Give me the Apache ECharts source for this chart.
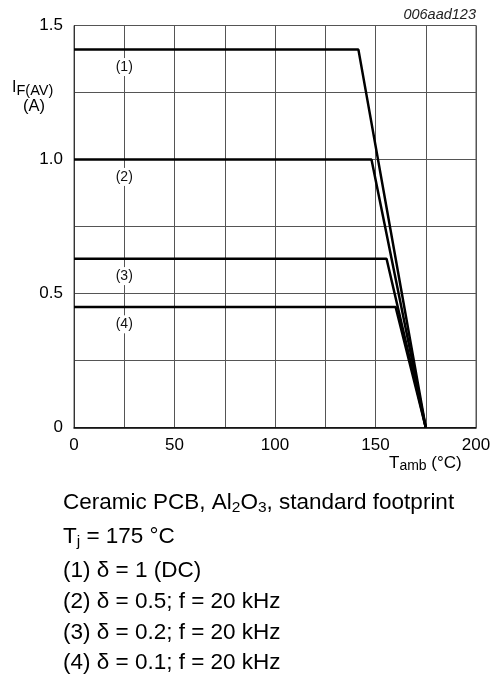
<!DOCTYPE html>
<html>
<head>
<meta charset="utf-8">
<script src="https://cdn.jsdelivr.net/npm/echarts@6/dist/echarts.min.js"></script>
<style>
html,body{margin:0;padding:0;background:#fff;}
#c{width:494px;height:676px;}
</style>
</head>
<body>
<div id="c"></div>
<script>
// Data
const curveNames = ['(1)', '(2)', '(3)', '(4)'];
const plateauCurrent = [1.41, 1.0, 0.63, 0.45];   // A
const kneeTemp = [141.5, 148, 155.5, 160];          // °C
const endTemp = 175;                                 // °C, current = 0
const labelTemp = 25;
const labelCurrent = [1.345, 0.935, 0.565, 0.385];
const xTicks = [0, 50, 100, 150, 200];
const yTicks = [0, 0.5, 1.0, 1.5];

const FONT = 'Liberation Sans, Arial, sans-serif';
const chart = echarts.init(document.getElementById('c'));

const lineSeries = curveNames.map((n, i) => ({
  name: n,
  type: 'line',
  symbol: 'none',
  silent: true,
  lineStyle: { color: '#000', width: 2.5 },
  data: [[0, plateauCurrent[i]], [kneeTemp[i], plateauCurrent[i]], [endTemp, 0]],
  z: 3
}));

const subRich = (main, sub, lh) => ({
  m: { fontSize: main, lineHeight: lh, verticalAlign: 'middle', fontFamily: FONT, color: '#000' },
  s: { fontSize: sub, lineHeight: sub, verticalAlign: 'bottom', fontFamily: FONT, color: '#000' }
});

const staticGraphic = [
  { type: 'text', x: 476, y: 15, style: { text: '006aad123', font: 'italic 14.5px ' + FONT, fill: '#222', align: 'right', verticalAlign: 'middle' } },
  { type: 'text', x: 12, y: 88, style: { text: '{m|I}{s|F(AV)}', verticalAlign: 'middle', rich: subRich(16, 14.5, 20) } },
  { type: 'text', x: 34, y: 106, style: { text: '(A)', font: '16.5px ' + FONT, fill: '#000', align: 'center', verticalAlign: 'middle' } },
  { type: 'text', x: 389, y: 463, style: { text: '{m|T}{s|amb}{m| (°C)}', verticalAlign: 'middle', rich: subRich(17, 14, 20) } },
  { type: 'text', x: 63, y: 503, style: { text: '{m|Ceramic PCB, Al}{s|2}{m|O}{s|3}{m|, standard footprint}', verticalAlign: 'middle', rich: subRich(22.5, 15.5, 26) } },
  { type: 'text', x: 63, y: 537, style: { text: '{m|T}{s|j}{m| = 175 °C}', verticalAlign: 'middle', rich: subRich(22.5, 15.5, 26) } },
  { type: 'text', x: 63, y: 571, style: { text: '(1) δ = 1 (DC)', font: '22.5px ' + FONT, fill: '#000', verticalAlign: 'middle' } },
  { type: 'text', x: 63, y: 602, style: { text: '(2) δ = 0.5; f = 20 kHz', font: '22.5px ' + FONT, fill: '#000', verticalAlign: 'middle' } },
  { type: 'text', x: 63, y: 633, style: { text: '(3) δ = 0.2; f = 20 kHz', font: '22.5px ' + FONT, fill: '#000', verticalAlign: 'middle' } },
  { type: 'text', x: 63, y: 663, style: { text: '(4) δ = 0.1; f = 20 kHz', font: '22.5px ' + FONT, fill: '#000', verticalAlign: 'middle' } }
];

chart.setOption({
  animation: false,
  backgroundColor: '#fff',
  grid: {
    left: 74, right: 18, top: 25.5, bottom: 248.5,
    show: true, borderColor: '#555', borderWidth: 1, backgroundColor: 'transparent'
  },
  xAxis: {
    type: 'value', min: 0, max: 200, interval: 25,
    axisLine: { show: true, onZero: false, lineStyle: { color: '#000', width: 1.5 } },
    axisTick: { show: false },
    splitLine: { show: true, lineStyle: { color: '#555', width: 1 } },
    axisLabel: {
      margin: 9, color: '#000', fontFamily: FONT, fontSize: 17,
      formatter: v => xTicks.includes(v) ? String(v) : ''
    }
  },
  yAxis: {
    type: 'value', min: 0, max: 1.5, interval: 0.25,
    axisLine: { show: true, onZero: false, lineStyle: { color: '#333', width: 1 } },
    axisTick: { show: false },
    splitLine: { show: true, lineStyle: { color: '#555', width: 1 } },
    axisLabel: {
      margin: 11, color: '#000', fontFamily: FONT, fontSize: 17,
      formatter: v => yTicks.some(t => Math.abs(t - v) < 1e-9) ? (v === 0 ? '0' : v.toFixed(1)) : ''
    }
  },
  series: lineSeries,
  graphic: staticGraphic
});

// Curve labels placed through the chart's own scales
const curveLabels = curveNames.map((n, i) => {
  const p = chart.convertToPixel({ gridIndex: 0 }, [labelTemp, labelCurrent[i]]);
  return {
    type: 'text', x: p[0], y: p[1], z: 10,
    style: {
      text: n, font: '14px ' + FONT, fill: '#111', align: 'center', verticalAlign: 'middle',
      backgroundColor: '#fff', padding: [2, 1]
    }
  };
});
chart.setOption({ graphic: staticGraphic.concat(curveLabels) });
</script>
</body>
</html>
